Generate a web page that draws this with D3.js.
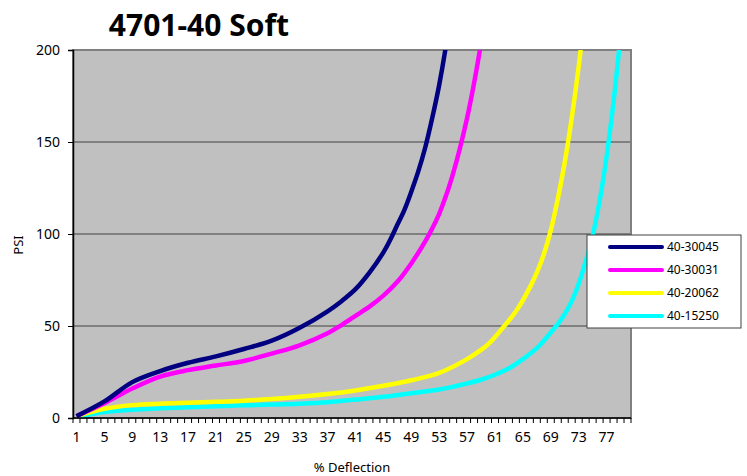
<!DOCTYPE html>
<html>
<head>
<meta charset="utf-8">
<script src="https://cdn.jsdelivr.net/npm/d3@7"></script>
<style>
  body { margin: 0; background: #fff; }
  text { font-family: "Noto Sans", "Open Sans", sans-serif; fill: #000; }
</style>
</head>
<body>
<div class="chart"></div>
<script>
// data: % deflection vs PSI for each foam grade
var categories = d3.range(1, 81);
var tickLabels = categories.filter(d => (d - 1) % 4 === 0);
var yTicks = [0, 50, 100, 150, 200];

var seriesNames = ["40-30045", "40-30031", "40-20062", "40-15250"];
var seriesColors = ["#000080", "#FF00FF", "#FFFF00", "#00FFFF"];

var navyX = [1, 5, 9, 13, 17, 21, 25, 29, 33, 37, 39, 41, 43, 45, 46, 47, 48, 49, 50, 51, 52, 53, 54, 55];
var navyY = [1, 9, 19.5, 25.5, 30, 33.5, 37.5, 42, 49, 58, 63.5, 70, 79, 90, 97, 105, 113, 123, 134, 147, 163, 181, 203, 230];

var magentaX = [1, 5, 9, 13, 17, 21, 25, 29, 33, 37, 39, 41, 43, 45, 47, 49, 51, 52, 53, 54, 55, 56, 57, 58, 59, 60];
var magentaY = [1, 8, 16, 22.5, 26, 28.5, 31, 35, 39.5, 46, 50.5, 55.5, 60.5, 66.5, 74, 84, 96, 103, 111, 121, 133, 147, 163, 182, 204, 232];

var yellowX = [1, 5, 9, 13, 17, 21, 25, 29, 33, 37, 41, 45, 49, 53, 57, 59, 60, 61, 62, 63, 64, 65, 66, 67, 68, 69, 70, 71, 72, 73, 74];
var yellowY = [1, 5, 7, 7.8, 8.3, 8.8, 9.4, 10.3, 11.5, 13, 15, 17.5, 20.5, 24.5, 32, 37, 40, 44, 48.5, 53, 58, 64, 71, 79, 89, 102, 119, 139, 163, 191, 225];

var cyanX = [1, 5, 9, 13, 17, 21, 25, 29, 33, 37, 41, 45, 49, 53, 55, 57, 59, 61, 63, 65, 67, 68, 69, 70, 71, 72, 73, 74, 75, 76, 77, 78, 79, 80];
var cyanY = [0.5, 3.2, 4.5, 5.3, 5.9, 6.4, 6.9, 7.3, 7.8, 8.6, 10, 11.5, 13.5, 15.5, 17, 18.8, 20.8, 23.5, 27, 32, 38, 42, 46.5, 51, 56.5, 63.5, 73, 85, 99, 118, 142, 172, 208, 250];

var seriesX = [navyX, magentaX, yellowX, cyanX];
var seriesY = [navyY, magentaY, yellowY, cyanY];

var svgWidth = 747;
var svgHeight = 476;

var plot = { left: 73, top: 50, right: 631, bottom: 418 };

var svg = d3.select(".chart")
  .append("svg")
  .attr("width", svgWidth)
  .attr("height", svgHeight);

// scales
var xBand = d3.scaleBand()
  .domain(categories)
  .range([plot.left, plot.right])
  .padding(0);

var xLinear = d3.scaleLinear()
  .domain([0.5, categories.length + 0.5])
  .range([plot.left, plot.right]);

var yScale = d3.scaleLinear()
  .domain([0, 200])
  .range([plot.bottom, plot.top]);

// plot area background
svg.append("rect")
  .attr("x", plot.left)
  .attr("y", plot.top)
  .attr("width", plot.right - plot.left)
  .attr("height", plot.bottom - plot.top)
  .attr("fill", "#C0C0C0")
  .attr("stroke", "#808080")
  .attr("stroke-width", 2);

// gridlines
svg.append("g")
  .selectAll("line")
  .data(yTicks.filter(d => d > 0))
  .enter()
  .append("line")
  .attr("x1", plot.left)
  .attr("x2", plot.right)
  .attr("y1", d => yScale(d))
  .attr("y2", d => yScale(d))
  .attr("stroke", "#808080")
  .attr("stroke-width", 2);

// clip so curves stop at the top of the plot
svg.append("clipPath")
  .attr("id", "plotClip")
  .append("rect")
  .attr("x", plot.left)
  .attr("y", plot.top)
  .attr("width", plot.right - plot.left)
  .attr("height", plot.bottom - plot.top);

var line = d3.line()
  .x(d => xLinear(d[0]))
  .y(d => yScale(d[1]))
  .curve(d3.curveCatmullRom.alpha(0.5));

var linesGroup = svg.append("g")
  .attr("clip-path", "url(#plotClip)");

// draw back to front so navy sits on top like the original
for (var s = seriesNames.length - 1; s >= 0; s--) {
  var pts = seriesX[s].map((x, i) => [x, seriesY[s][i]]);
  linesGroup.append("path")
    .datum(pts)
    .attr("d", line)
    .attr("fill", "none")
    .attr("stroke", seriesColors[s])
    .attr("stroke-width", 4.5)
    .attr("stroke-linejoin", "round");
}

// y axis
var leftAxis = d3.axisLeft(yScale)
  .tickValues(yTicks)
  .tickSize(5)
  .tickPadding(8);

var yAxis = svg.append("g")
  .attr("transform", `translate(${plot.left}, 0)`)
  .call(leftAxis);
yAxis.select(".domain").attr("stroke", "#000").attr("stroke-width", 1.5);
yAxis.selectAll(".tick line").attr("stroke", "#000");
yAxis.selectAll("text")
  .style("font-size", "14px")
  .attr("fill", "#000");

// x axis: ticks between categories, labels every 4th
var bottomAxis = d3.axisBottom(xBand)
  .tickValues(tickLabels)
  .tickSize(0)
  .tickPadding(14);

var xAxis = svg.append("g")
  .attr("transform", `translate(0, ${plot.bottom})`)
  .call(bottomAxis);
xAxis.select(".domain").remove();
xAxis.selectAll("text")
  .style("font-size", "14px")
  .attr("fill", "#000");

xAxis.append("line")
  .attr("x1", plot.left)
  .attr("x2", plot.right)
  .attr("stroke", "#000")
  .attr("stroke-width", 1.5);

xAxis.selectAll(".minor")
  .data(d3.range(0, categories.length + 1))
  .enter()
  .append("line")
  .attr("class", "minor")
  .attr("x1", d => xLinear(d + 0.5))
  .attr("x2", d => xLinear(d + 0.5))
  .attr("y1", 0)
  .attr("y2", 5)
  .attr("stroke", "#000");

// title and axis titles
svg.append("text")
  .attr("x", 199)
  .attr("y", 36)
  .attr("text-anchor", "middle")
  .style("font-size", "30px")
  .style("font-weight", "bold")
  .text("4701-40 Soft");

svg.append("text")
  .attr("transform", "rotate(-90)")
  .attr("x", -245)
  .attr("y", 23)
  .attr("text-anchor", "middle")
  .style("font-size", "13px")
  .text("PSI");

svg.append("text")
  .attr("x", 352)
  .attr("y", 472)
  .attr("text-anchor", "middle")
  .style("font-size", "13px")
  .text("% Deflection");

// legend
var legend = svg.append("g")
  .attr("transform", "translate(587, 235)");

legend.append("rect")
  .attr("width", 154)
  .attr("height", 93)
  .attr("fill", "#fff")
  .attr("stroke", "#404040")
  .attr("stroke-width", 1);

var legendItems = legend.selectAll(".item")
  .data(seriesNames)
  .enter()
  .append("g")
  .attr("class", "item")
  .attr("transform", (d, i) => `translate(0, ${12 + i * 23})`);

legendItems.append("line")
  .attr("x1", 23)
  .attr("x2", 75)
  .attr("stroke", (d, i) => seriesColors[i])
  .attr("stroke-width", 4)
  .attr("stroke-linecap", "round");

legendItems.append("text")
  .attr("x", 80)
  .attr("dy", "0.35em")
  .style("font-size", "12px")
  .text(d => d);
</script>
</body>
</html>
